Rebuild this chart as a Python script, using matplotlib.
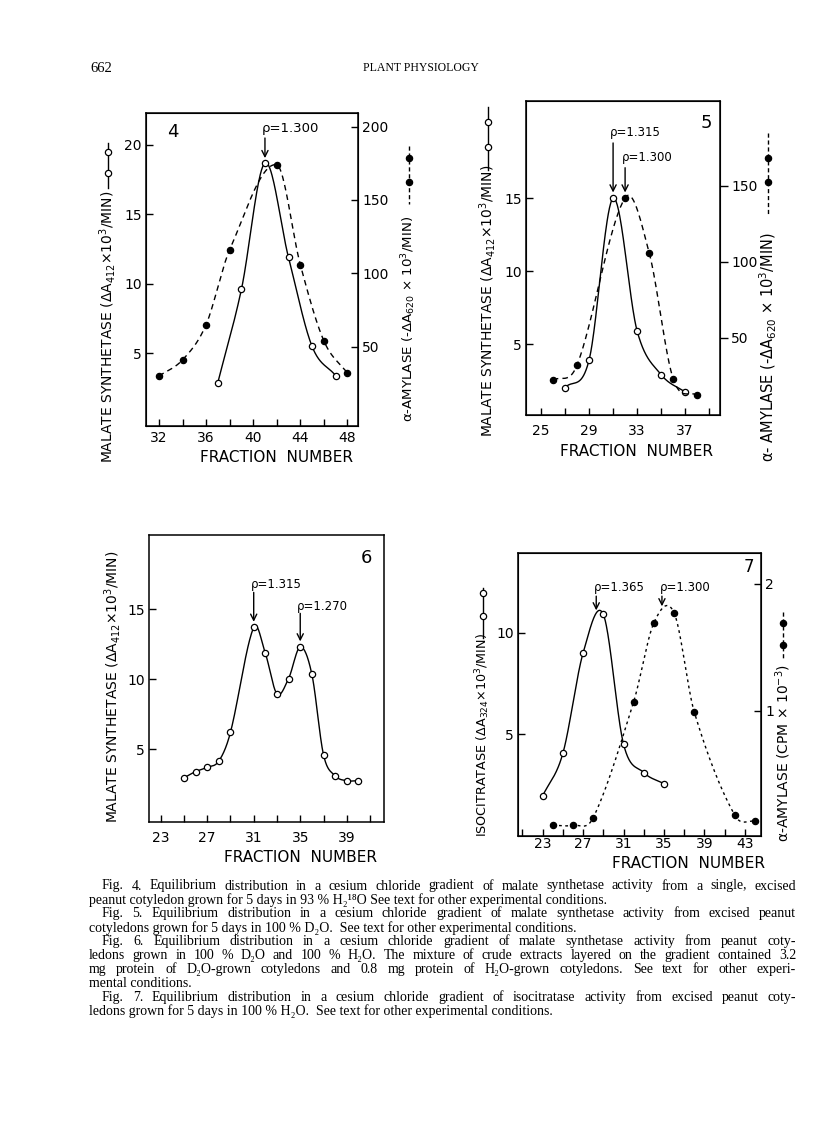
import numpy as np
import matplotlib
matplotlib.use("Agg")
import matplotlib.pyplot as plt
from matplotlib.lines import Line2D
from matplotlib.ticker import FixedLocator

W, H = 816, 1143

# Fig. 4 - malate synthetase (open, solid) and alpha-amylase (filled, dashed)
f4_ms_x = [37, 39, 41, 43, 45, 47]
f4_ms_y = [2.9, 9.6, 18.7, 11.9, 5.5, 3.4]
f4_amy_x = [32, 34, 36, 38, 42, 44, 46, 48]
f4_amy_y = [30, 41, 65, 116, 174, 106, 54, 32]

# Fig. 5
f5_ms_x = [27, 29, 31, 33, 35, 37]
f5_ms_y = [2.0, 3.9, 15.0, 5.9, 2.9, 1.7]
f5_amy_x = [26, 28, 32, 34, 36, 38]
f5_amy_y = [22, 32, 142, 106, 23, 12]

# Fig. 6
f6_x = [25, 26, 27, 28, 29, 31, 32, 33, 34, 35, 36, 37, 38, 39, 40]
f6_y = [2.95, 3.4, 3.7, 4.15, 6.2, 13.7, 11.85, 8.95, 10.05, 12.3, 10.35, 4.6, 3.1, 2.75, 2.75]

# Fig. 7 - isocitratase (open, solid) and alpha-amylase (filled, dotted)
f7_iso_x = [23, 25, 27, 29, 31, 33, 35]
f7_iso_y = [1.95, 4.05, 9.0, 10.9, 4.5, 3.1, 2.55]
f7_amy_x = [24, 26, 28, 32, 34, 36, 38, 42, 44]
f7_amy_y = [0.10, 0.10, 0.16, 1.07, 1.69, 1.77, 0.99, 0.18, 0.13]

plt.rcParams['font.family'] = ['DejaVu Sans']
fig = plt.figure(figsize=(W / 100, H / 100), dpi=100)


def smooth(x, y, n=40):
    """Catmull-Rom curve through the points, like a french-curve drawing."""
    x = np.asarray(x, float)
    y = np.asarray(y, float)
    m = np.empty_like(y)
    m[1:-1] = (y[2:] - y[:-2]) / (x[2:] - x[:-2])
    m[0] = (y[1] - y[0]) / (x[1] - x[0])
    m[-1] = (y[-1] - y[-2]) / (x[-1] - x[-2])
    xs, ys = [], []
    t = np.linspace(0, 1, n, endpoint=False)
    for i in range(len(x) - 1):
        h = x[i + 1] - x[i]
        h00 = 2 * t**3 - 3 * t**2 + 1
        h10 = t**3 - 2 * t**2 + t
        h01 = -2 * t**3 + 3 * t**2
        h11 = t**3 - t**2
        xs.append(x[i] + h * t)
        ys.append(h00 * y[i] + h10 * h * m[i] + h01 * y[i + 1] + h11 * h * m[i + 1])
    xs.append([x[-1]])
    ys.append([y[-1]])
    return np.concatenate(xs), np.concatenate(ys)


def px(x, y):
    return x / W, 1 - y / H


def make_axes(box, xlim, ylim, xmaj, xmin, yticks, xpad):
    l, t, r, b = box
    ax = fig.add_axes([l / W, 1 - b / H, (r - l) / W, (b - t) / H])
    ax.set_xlim(xlim)
    ax.set_ylim(ylim)
    ax.xaxis.set_major_locator(FixedLocator(xmaj))
    ax.xaxis.set_minor_locator(FixedLocator(xmin))
    ax.set_yticks(yticks)
    ax.tick_params(which='both', direction='in', length=5, width=1, labelsize=10)
    ax.tick_params(axis='x', pad=xpad)
    ax.tick_params(axis='y', pad=3)
    for s in ax.spines.values():
        s.set_linewidth(1.1)
    return ax


def curve(ax, x, y, filled, ls='-', dashes=None):
    sx, sy = smooth(x, y)
    ln, = ax.plot(sx, sy, color='k', lw=1.0, ls=ls)
    if dashes:
        ln.set_dashes(dashes)
    ax.plot(x, y, ls='none', marker='o', ms=4.5, mew=0.9, mec='k',
            mfc='k' if filled else 'white', zorder=5, clip_on=False)


def arrow(ax, x, ytop, ytip, label, ytext, size=8.5):
    ax.annotate('', xy=(x, ytip), xytext=(x, ytop),
                arrowprops=dict(arrowstyle='->', lw=1.0, color='k',
                                shrinkA=0, shrinkB=0, mutation_scale=11))
    ax.text(x - 0.25, ytext, label, ha='left', va='center', fontsize=size)


def vlabel(x, y0, s, size=10):
    fig.text(*px(x, y0), s, rotation=90, ha='center', va='bottom', fontsize=size)


def key(x, ytop, ybot, marks, filled):
    ls = (0, (3, 2)) if filled else '-'
    fig.add_artist(Line2D([x / W, x / W], [1 - ytop / H, 1 - ybot / H],
                          transform=fig.transFigure, color='k', lw=1, ls=ls))
    fig.add_artist(Line2D([x / W] * len(marks), [1 - m / H for m in marks],
                          transform=fig.transFigure, ls='none', marker='o',
                          ms=4.5, mew=0.9, mec='k', mfc='k' if filled else 'white'))


def xlabel(x, y):
    fig.text(*px(x, y), "FRACTION  NUMBER", ha='center', va='center', fontsize=11)


# ---- Fig. 4 ----
ax4 = make_axes((146, 113, 358, 426), (30.9, 48.9), (-0.23, 22.3),
                [32, 36, 40, 44, 48], [34, 38, 42, 46], [5, 10, 15, 20], 3.5)
ax4b = ax4.twinx()
ax4b.set_ylim(-4.07, 209.3)
ax4b.set_yticks([50, 100, 150, 200])
ax4b.tick_params(direction='in', length=5, width=1, labelsize=10, pad=3)
curve(ax4, f4_ms_x, f4_ms_y, False)
curve(ax4b, f4_amy_x, f4_amy_y, True, ls='--', dashes=(4, 3))
arrow(ax4, 41, 20.5, 19.05, "ρ=1.300", 21.2, size=9.5)
ax4.text(0.1, 0.94, "4", transform=ax4.transAxes, fontsize=13, va='center')
vlabel(108, 463, "MALATE SYNTHETASE (ΔA$_{412}$×10$^{3}$/MIN)")
key(108, 143, 188, [152, 173], False)
vlabel(409, 422, "α-AMYLASE (-ΔA$_{620}$ × 10$^{3}$/MIN)", size=9.6)
key(409, 146, 204, [158, 182], True)
xlabel(277, 457)

# ---- Fig. 5 ----
ax5 = make_axes((526, 101, 720, 415), (23.75, 39.9), (0.13, 21.68),
                [25, 29, 33, 37], [27, 31, 35, 39], [5, 10, 15], 6.5)
ax5b = ax5.twinx()
ax5b.set_ylim(-0.9, 205.7)
ax5b.set_yticks([50, 100, 150])
ax5b.tick_params(direction='out', length=6, width=1, labelsize=10, pad=2)
curve(ax5, f5_ms_x, f5_ms_y, False)
curve(ax5b, f5_amy_x, f5_amy_y, True, ls='--', dashes=(4, 3))
arrow(ax5, 31, 18.8, 15.4, "ρ=1.315", 19.5)
arrow(ax5, 32, 17.1, 15.4, "ρ=1.300", 17.8)
ax5.text(0.9, 0.93, "5", transform=ax5.transAxes, fontsize=13, va='center')
vlabel(488, 437, "MALATE SYNTHETASE (ΔA$_{412}$×10$^{3}$/MIN)")
key(488, 107, 170, [122, 147], False)
vlabel(768, 462, "α- AMYLASE (-ΔA$_{620}$ × 10$^{3}$/MIN)", size=10.5)
key(768, 133, 215, [158, 182], True)
xlabel(637, 452)

# ---- Fig. 6 ----
ax6 = make_axes((149, 535, 384, 822), (22.0, 42.2), (-0.2, 20.3),
                [23, 27, 31, 35, 39], [25, 29, 33, 37, 41], [5, 10, 15], 6.5)
curve(ax6, f6_x, f6_y, False)
arrow(ax6, 31, 16.2, 14.1, "ρ=1.315", 16.75)
arrow(ax6, 35, 14.7, 12.7, "ρ=1.270", 15.2)
ax6.text(0.9, 0.92, "6", transform=ax6.transAxes, fontsize=13, va='center')
vlabel(112, 823, "MALATE SYNTHETASE (ΔA$_{412}$×10$^{3}$/MIN)")
xlabel(300, 858)

# ---- Fig. 7 ----
ax7 = make_axes((518, 553, 761, 836), (20.56, 44.6), (-0.03, 13.93),
                [23, 27, 31, 35, 39, 43], [21, 25, 29, 33, 37, 41], [5, 10], 0.5)
ax7b = ax7.twinx()
ax7b.set_ylim(0.016, 2.24)
ax7b.set_yticks([1, 2])
ax7b.tick_params(direction='in', length=5, width=1, labelsize=10, pad=3)
curve(ax7, f7_iso_x, f7_iso_y, False)
curve(ax7b, f7_amy_x, f7_amy_y, True, ls=':', dashes=(2, 2.5))
arrow(ax7, 28.3, 11.8, 11.1, "ρ=1.365", 12.25)
arrow(ax7, 34.8, 11.8, 11.3, "ρ=1.300", 12.25)
ax7.text(0.93, 0.95, "7", transform=ax7.transAxes, fontsize=12, va='center')
vlabel(483, 837, "ISOCITRATASE (ΔA$_{324}$×10$^{3}$/MIN)", size=9.2)
key(483, 588, 638, [593, 616], False)
vlabel(783, 842, "α-AMYLASE (CPM × 10$^{-3}$)")
key(783, 612, 660, [623, 645], True)
xlabel(688, 863)

# ---- page header ----
serif = ['Liberation Serif', 'DejaVu Serif']
fig.text(*px(90, 68), "662", family=serif, fontsize=10.5, va='center', ha='left')
fig.text(*px(421, 68), "PLANT PHYSIOLOGY", family=serif, fontsize=8.5, va='center', ha='center')

# ---- caption, justified like the printed page ----
cap_lines = [
    (102, "Fig. 4.  Equilibrium distribution in a cesium chloride gradient of malate synthetase activity from a single, excised", True),
    (89, "peanut cotyledon grown for 5 days in 93 % H₂¹⁸O See text for other experimental conditions.", False),
    (102, "Fig. 5.  Equilibrium distribution in a cesium chloride gradient of malate synthetase activity from excised peanut", True),
    (89, "cotyledons grown for 5 days in 100 % D₂O.  See text for other experimental conditions.", False),
    (102, "Fig. 6.  Equilibrium distribution in a cesium chloride gradient of malate synthetase activity from peanut coty-", True),
    (89, "ledons grown in 100 % D₂O and 100 % H₂O.  The mixture of crude extracts layered on the gradient contained 3.2", True),
    (89, "mg protein of D₂O-grown cotyledons and 0.8 mg protein of H₂O-grown cotyledons.  See text for other experi-", True),
    (89, "mental conditions.", False),
    (102, "Fig. 7.  Equilibrium distribution in a cesium chloride gradient of isocitratase activity from excised peanut coty-", True),
    (89, "ledons grown for 5 days in 100 % H₂O.  See text for other experimental conditions.", False),
]
cap_right = 796
cap_size = 10
renderer = fig.canvas.get_renderer()
for i, (x0, line, just) in enumerate(cap_lines):
    y = 886 + 13.9 * i
    if not just:
        fig.text(*px(x0, y), line, family=serif, fontsize=cap_size, va='center', ha='left')
        continue
    words = line.split()
    texts = [fig.text(0, 0, w, family=serif, fontsize=cap_size, va='center', ha='left') for w in words]
    widths = [t.get_window_extent(renderer).width for t in texts]
    gap = (cap_right - x0 - sum(widths)) / (len(words) - 1)
    x = x0
    for t, w in zip(texts, widths):
        t.set_position(px(x, y))
        x += w + gap

fig.savefig("out.png", dpi=100)
